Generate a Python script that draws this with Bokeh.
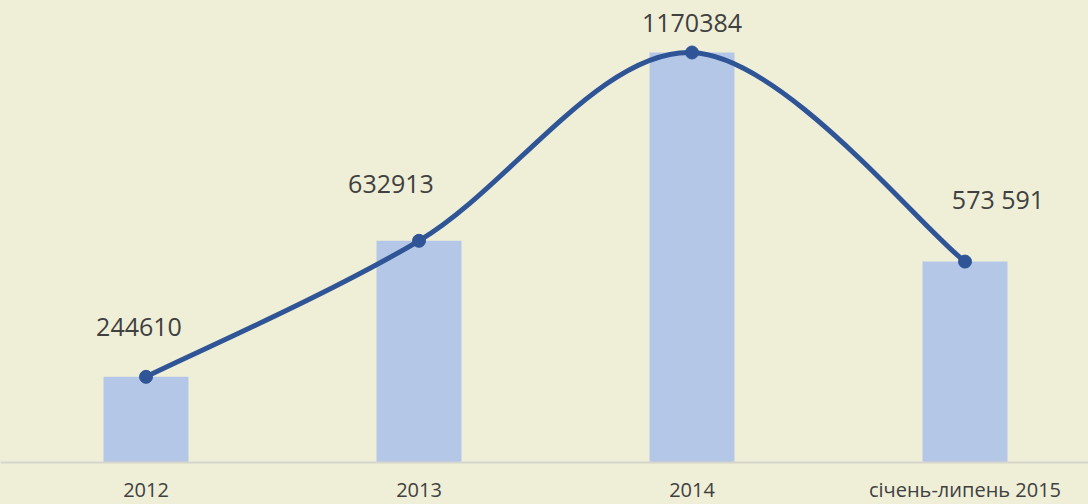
import numpy as np
from bokeh.plotting import figure
from bokeh.models import ColumnDataSource, Range1d, Span
from bokeh.core.properties import value
from bokeh.embed import file_html
from bokeh.resources import INLINE

# ---- data ----
categories = ["2012", "2013", "2014", "січень-липень 2015"]
values = [244610, 632913, 1170384, 573591]
value_labels = ["244610", "632913", "1170384", "573 591"]

# ---- layout constants ----
W, H = 1088, 504
BG = "#EFEFD8"
BAR = "#B4C7E7"
LINE = "#2F5597"
TXT = "#404040"
FONT = "Open Sans"

cat_px = 273.0           # pixels per category
first_px = 145.5         # pixel x of first category centre
axis_px = 462.0          # pixel y (from top) of the baseline
ymax_px = 410.0          # pixel height of the largest bar
vmax = max(values)
per_px = vmax / ymax_px

x = np.arange(len(values), dtype=float)
y = np.array(values, dtype=float)

x_range = Range1d(-first_px / cat_px, (W - first_px) / cat_px)
y_range = Range1d(-(H - axis_px) * per_px, axis_px * per_px)

p = figure(width=W, height=H, x_range=x_range, y_range=y_range,
           output_backend="svg", toolbar_location=None,
           min_border=0, min_border_left=0, min_border_right=0,
           min_border_top=0, min_border_bottom=0)
p.background_fill_color = BG
p.border_fill_color = BG
p.outline_line_color = None
p.xaxis.visible = False
p.yaxis.visible = False
p.xgrid.visible = False
p.ygrid.visible = False

# bars
src = ColumnDataSource(dict(x=x, y=y, lab=value_labels, cat=categories,
                            dx=[-7, -28, 0, 33], dy=[-50, -57, -30, -63]))
p.vbar(x="x", top="y", bottom=0, width=85 / cat_px, source=src,
       fill_color=BAR, line_color=None)

# baseline
p.add_layout(Span(location=0, dimension="width", line_color="#D6D6CC", line_width=2))

# smoothed line (Catmull-Rom -> Bezier, as Excel's smoothed line)
P = np.column_stack([x, y])
n = len(P)
x0, y0, x1, y1, cx0, cy0, cx1, cy1 = ([] for _ in range(8))
for i in range(n - 1):
    pm = P[max(i - 1, 0)]
    p0 = P[i]
    p1 = P[i + 1]
    pp = P[min(i + 2, n - 1)]
    c0 = p0 + (p1 - pm) / 6.0
    c1 = p1 - (pp - p0) / 6.0
    x0.append(p0[0]); y0.append(p0[1]); x1.append(p1[0]); y1.append(p1[1])
    cx0.append(c0[0]); cy0.append(c0[1]); cx1.append(c1[0]); cy1.append(c1[1])
p.bezier(x0=x0, y0=y0, x1=x1, y1=y1, cx0=cx0, cy0=cy0, cx1=cx1, cy1=cy1,
         line_color=LINE, line_width=5)

# markers
p.scatter(x="x", y="y", source=src, size=13, fill_color=LINE, line_color=LINE)

# value labels
p.text(x="x", y="y", text="lab", source=src, x_offset="dx", y_offset="dy",
       text_align="center", text_baseline="middle", text_color=TXT,
       text_font=value(FONT), text_font_size="25px")

# category labels
p.text(x="x", y=-27 * per_px, text="cat", source=src,
       text_align="center", text_baseline="middle", text_color=TXT,
       text_font=value(FONT), text_font_size="20px")

html = file_html(p, INLINE)
html = html.replace("<head>", "<head><style>html,body{background:%s;}</style>" % BG, 1)
open("out.html", "w").write(html)
